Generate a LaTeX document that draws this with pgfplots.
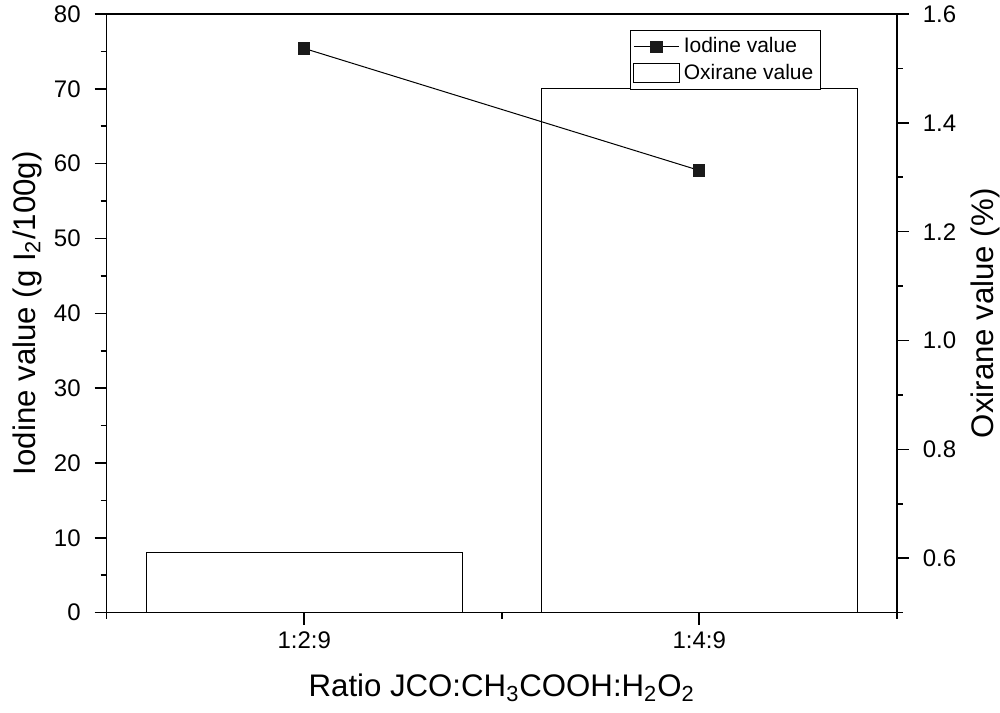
\documentclass[border=0pt]{standalone}
\usepackage{fontspec}
\setmainfont{Liberation Sans}
\usepackage{pgfplots}
\pgfplotsset{compat=1.18}
\definecolor{mk}{HTML}{1A1A1A}
\begin{document}
\begin{tikzpicture}
\pgfplotsset{
  common/.style={
    width=395pt, height=299.35pt, scale only axis,
    xmin=0.5, xmax=2.5,
    tick align=outside,
    major tick length=6pt, minor tick length=3pt,
    every tick/.style={black, line width=0.8pt},
    axis line style={line width=0.8pt},
    tick label style={font=\fontsize{12}{14}\selectfont},
    /pgf/number format/assume math mode=true,
  }
}
\begin{axis}[common,
  hide x axis,
  axis y line*=right,
  ymin=0.5, ymax=1.6,
  ytick={0.6,0.8,1.0,1.2,1.4,1.6},
  minor ytick={0.5,0.7,0.9,1.1,1.3,1.5},
  yticklabel style={xshift=3.5pt, /pgf/number format/fixed, /pgf/number format/fixed zerofill, /pgf/number format/precision=1},
  ylabel={Oxirane value (\%)},
  every axis y label/.style={at={(axis description cs:1.112,0.5)}, anchor=center, rotate=90, inner sep=0pt, font=\fontsize{15.6}{18}\selectfont},
  ybar, bar width=0.8,
]
\addplot[draw=black, line width=0.5pt] coordinates {(1,0.61) (2,1.463)};
\end{axis}
\begin{axis}[common,
  ymin=0, ymax=80, ytick={0,10,...,80}, minor ytick={5,15,...,75},
  xtick={1,2}, xticklabels={1:2:9,1:4:9}, minor xtick={0.5,1.5,2.5},
  xtick pos=bottom, ytick pos=left,
  yticklabel style={xshift=-3.5pt},
  xlabel={Ratio JCO:CH\textsubscript{3}COOH:H\textsubscript{2}O\textsubscript{2}},
  ylabel={Iodine value (g I\textsubscript{2}/100g)},
  every axis x label/.style={at={(axis description cs:0.5,-0.126)}, anchor=center, inner sep=0pt, font=\fontsize{15.6}{18}\selectfont},
  every axis y label/.style={at={(axis description cs:-0.1009,0.5)}, anchor=center, rotate=90, inner sep=0pt, font=\fontsize{15.6}{18}\selectfont},
  legend style={at={(0.904,0.973)}, anchor=north east, draw=black, line width=0.5pt,
    font=\fontsize{10.5}{12.5}\selectfont, inner sep=1.5pt, row sep=0pt},
  legend cell align=left,
]
\addplot[black, line width=0.5pt, mark=square*, mark size=2.8pt, mark options={fill=mk, draw=mk},
  legend image code/.code={\draw[mark repeat=2, mark phase=2] plot coordinates {(0cm,0cm) (0.4cm,0cm) (0.8cm,0cm)};}]
  coordinates {(1,75.4) (2,59.1)};
\addlegendentry{Iodine value}
\addlegendimage{legend image code/.code={\draw[black, line width=0.5pt] (0cm,-0.17cm) rectangle (0.8cm,0.17cm);}}
\addlegendentry{Oxirane value}
\coordinate (bl) at (rel axis cs:0,0);
\coordinate (tr) at (rel axis cs:1,1);
\end{axis}
\pgfresetboundingbox
\path[use as bounding box] ([xshift=-53.35pt, yshift=-50.15pt]bl) rectangle ([xshift=51.65pt, yshift=7pt]tr);
\end{tikzpicture}
\end{document}
